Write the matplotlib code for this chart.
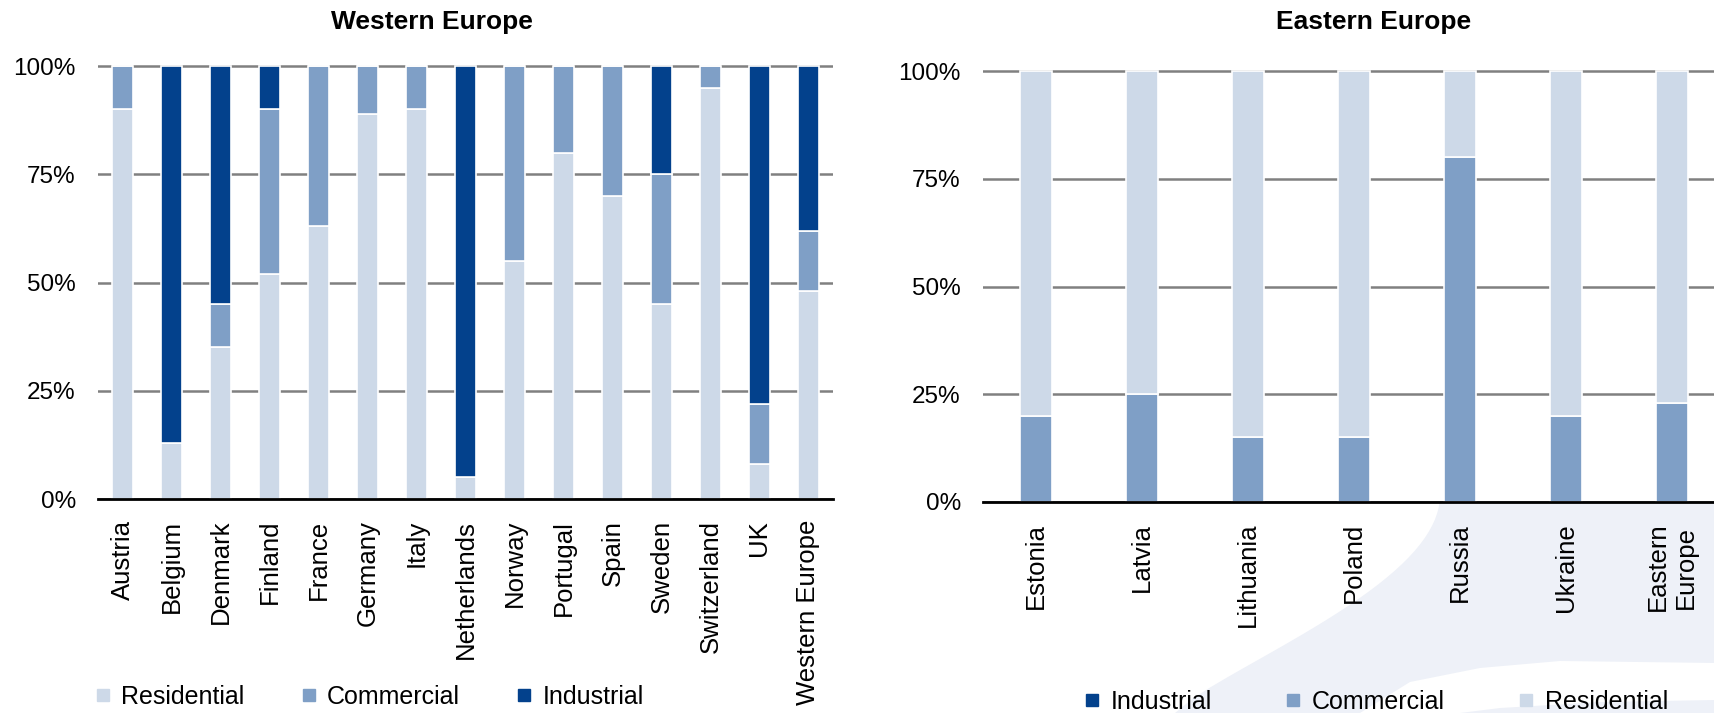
import matplotlib
matplotlib.use('Agg')
import matplotlib.pyplot as plt
from matplotlib.lines import Line2D
import numpy as np

plt.rcParams['font.family'] = ['Liberation Sans', 'DejaVu Sans']

# Western Europe - share of each sector (%)
west_countries = ['Austria', 'Belgium', 'Denmark', 'Finland', 'France', 'Germany', 'Italy',
                  'Netherlands', 'Norway', 'Portugal', 'Spain', 'Sweden', 'Switzerland',
                  'UK', 'Western Europe']
west_residential = [90, 13, 35, 52, 63, 89, 90, 5, 55, 80, 70, 45, 95, 8, 48]
west_commercial = [10, 0, 10, 38, 37, 11, 10, 0, 45, 20, 30, 30, 5, 14, 14]
west_industrial = [0, 87, 55, 10, 0, 0, 0, 95, 0, 0, 0, 25, 0, 78, 38]

# Eastern Europe - share of each sector (%)
east_countries = ['Estonia', 'Latvia', 'Lithuania', 'Poland', 'Russia', 'Ukraine', 'Eastern\nEurope']
east_industrial = [0, 0, 0, 0, 0, 0, 0]
east_commercial = [20, 25, 15, 15, 80, 20, 23]
east_residential = [80, 75, 85, 85, 20, 80, 77]

yticks = [0, 25, 50, 75, 100]
ytick_labels = ['0%', '25%', '50%', '75%', '100%']

RES = '#cdd9e8'
COM = '#7f9fc6'
IND = '#03418c'

W, H = 1715, 713
fig = plt.figure(figsize=(W / 100, H / 100), dpi=100)

# faint watermark swoosh behind the right chart
bg = fig.add_axes([0, 0, 1, 1], zorder=-5)
bg.set_xlim(0, W)
bg.set_ylim(H, 0)
bg.axis('off')
t = np.linspace(0, 1, 30)
arc_x = 1175 + (1440 - 1175) * (1 - (1 - t) ** 2)
arc_y = 713 - (713 - 495) * t ** 0.8
bg.fill(np.r_[arc_x, 1715, 1715], np.r_[arc_y, 480, 713], color='#eef1f8', lw=0)
bg.fill([1360, 1410, 1480, 1560, 1715, 1715, 1600, 1500, 1460],
        [713, 682, 668, 661, 663, 700, 702, 708, 713], color='white', lw=0)


def style_axes(ax, labels):
    ax.set_ylim(0, 101)
    ax.set_xlim(-0.5, len(labels) - 0.5)
    ax.set_yticks(yticks)
    ax.set_yticklabels(ytick_labels)
    ax.set_xticks(np.arange(len(labels)))
    ax.set_xticklabels(labels, rotation=90, multialignment='center')
    ax.tick_params(axis='y', length=0, pad=16, labelsize=17.5)
    ax.tick_params(axis='x', length=0, pad=15, labelsize=18.5)
    ax.yaxis.grid(True, color='#808080', linewidth=1.8)
    ax.set_axisbelow(True)
    for s in ['top', 'right', 'left']:
        ax.spines[s].set_visible(False)
    ax.spines['bottom'].set_linewidth(2)
    ax.spines['bottom'].set_color('black')
    ax.spines['bottom'].set_zorder(4)


# left chart
ax1 = fig.add_axes([98 / W, 214 / H, 735 / W, 437.3 / H])
x1 = np.arange(len(west_countries))
w1 = 0.43
res = np.array(west_residential)
com = np.array(west_commercial)
ind = np.array(west_industrial)
ax1.bar(x1, res, w1, color=RES, edgecolor='white', linewidth=1.2, zorder=3)
ax1.bar(x1, com, w1, bottom=res, color=COM, edgecolor='white', linewidth=1.2, zorder=3)
ax1.bar(x1, ind, w1, bottom=res + com, color=IND, edgecolor='white', linewidth=1.2, zorder=3)
style_axes(ax1, west_countries)

# right chart (runs off the right edge)
ax2 = fig.add_axes([983 / W, 211 / H, 742 / W, 435.3 / H])
x2 = np.arange(len(east_countries))
w2 = 0.31
ecom = np.array(east_commercial)
eres = np.array(east_residential)
eind = np.array(east_industrial)
ax2.bar(x2, eind, w2, color=IND, edgecolor='white', linewidth=1.2, zorder=3)
ax2.bar(x2, ecom, w2, bottom=eind, color=COM, edgecolor='white', linewidth=1.2, zorder=3)
ax2.bar(x2, eres, w2, bottom=eind + ecom, color=RES, edgecolor='white', linewidth=1.2, zorder=3)
style_axes(ax2, east_countries)

fig.text(432 / W, 1 - 22 / H, 'Western Europe', ha='center', va='center',
         fontsize=19, fontweight='bold')
fig.text(1374 / W, 1 - 22 / H, 'Eastern Europe', ha='center', va='center',
         fontsize=19, fontweight='bold')


def square(c):
    return Line2D([], [], marker='s', ls='', color=c, markersize=9)


fig.legend([square(RES), square(COM), square(IND)], ['Residential', 'Commercial', 'Industrial'],
           loc='center left', bbox_to_anchor=(94 / W, 1 - 697 / H), ncol=3, frameon=False,
           fontsize=18, handlelength=0.7, handletextpad=0.4, columnspacing=2.2,
           borderpad=0, borderaxespad=0)
fig.legend([square(IND), square(COM), square(RES)], ['Industrial', 'Commercial', 'Residential'],
           loc='center left', bbox_to_anchor=(1083 / W, 1 - 702 / H), ncol=3, frameon=False,
           fontsize=18, handlelength=0.7, handletextpad=0.4, columnspacing=2.9,
           borderpad=0, borderaxespad=0)

fig.savefig('out.png', dpi=100)
